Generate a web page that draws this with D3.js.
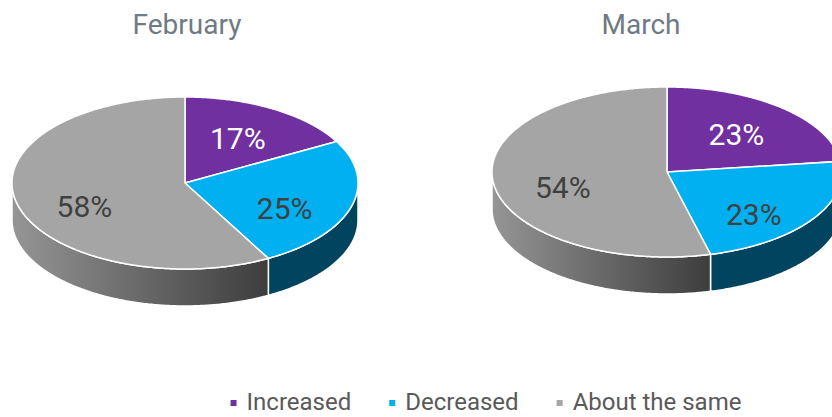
<!DOCTYPE html>
<html>
<head>
<meta charset="utf-8">
<script src="https://cdn.jsdelivr.net/npm/d3@7"></script>
<style>
  html, body { margin: 0; padding: 0; background: #ffffff; }
  svg { display: block; font-family: Roboto, "Open Sans", sans-serif; }
</style>
</head>
<body>
<svg id="chart" width="832" height="417"></svg>
<script>
// Survey answers per month (percent)
const categories = ["Increased", "Decreased", "About the same"];
const months = ["February", "March"];
const februaryValues = [17, 25, 58];
const marchValues = [23, 23, 54];

const topColors = ["#7030a0", "#00b0f0", "#a5a5a5"];
const sideColors = ["#3e1a5a", "#00445f", null]; // grey side uses a gradient
const labelColors = ["#ffffff", "#404040", "#404040"];

const svg = d3.select("#chart");
const defs = svg.append("defs");

// Geometry of each tilted pie (top face ellipse + rim depth)
const pies = [
  { title: months[0], values: februaryValues, cx: 185, cy: 183, rx: 173, ry: 86, depth: 37, titleX: 187 },
  { title: months[1], values: marchValues,    cx: 667, cy: 172, rx: 175, ry: 85, depth: 37, titleX: 641 }
];

const pieLayout = d3.pie().sort(null).value(d => d).startAngle(0).endAngle(2 * Math.PI);

function pt(p, a, dy = 0) {
  // angle measured clockwise from 12 o'clock
  return [p.cx + p.rx * Math.sin(a), p.cy - p.ry * Math.cos(a) + dy];
}

function arcPoints(p, a0, a1, dy) {
  const n = Math.max(2, Math.ceil(Math.abs(a1 - a0) / 0.01));
  return d3.range(n + 1).map(i => pt(p, a0 + (a1 - a0) * i / n, dy));
}

const line = d3.line();

pies.forEach((p, pi) => {
  const g = svg.append("g");
  const arcs = pieLayout(p.values);

  // horizontal shading for the grey rim
  const gradId = "rimGrey" + pi;
  const greyArc = arcs[2];
  const gEnd = pt(p, Math.max(greyArc.startAngle, Math.PI / 2))[0];
  const grad = defs.append("linearGradient")
    .attr("id", gradId)
    .attr("gradientUnits", "userSpaceOnUse")
    .attr("x1", p.cx - p.rx).attr("y1", 0)
    .attr("x2", gEnd).attr("y2", 0);
  grad.append("stop").attr("offset", 0).attr("stop-color", "#959595");
  grad.append("stop").attr("offset", 1).attr("stop-color", "#3d3d3d");

  // rim (only the front half, from 3 o'clock round to 9 o'clock, is visible)
  arcs.forEach((a, i) => {
    const s = Math.max(a.startAngle, Math.PI / 2);
    const e = Math.min(a.endAngle, 3 * Math.PI / 2);
    if (e <= s) return;
    const top = arcPoints(p, s, e, 0);
    const bottom = arcPoints(p, e, s, p.depth);
    g.append("path")
      .attr("d", line(top.concat(bottom)) + "Z")
      .attr("fill", i === 2 ? `url(#${gradId})` : sideColors[i])
      .attr("stroke", "#ffffff")
      .attr("stroke-width", 1.5)
      .attr("stroke-linejoin", "round");
  });

  // top faces
  arcs.forEach((a, i) => {
    const pts = [[p.cx, p.cy]].concat(arcPoints(p, a.startAngle, a.endAngle, 0));
    g.append("path")
      .attr("d", line(pts) + "Z")
      .attr("fill", topColors[i])
      .attr("stroke", "#ffffff")
      .attr("stroke-width", 1.5)
      .attr("stroke-linejoin", "round");
  });

  // value labels
  const fs = 30;
  arcs.forEach((a, i) => {
    const mid = (a.startAngle + a.endAngle) / 2;
    const x = p.cx + 0.6 * p.rx * Math.sin(mid);
    const y = p.cy - 0.71 * p.ry * Math.cos(mid) + 8;
    g.append("text")
      .attr("x", x)
      .attr("y", y + 0.355 * fs)
      .attr("text-anchor", "middle")
      .attr("font-size", fs)
      .attr("fill", labelColors[i])
      .text(a.data + "%");
  });

  // month title
  svg.append("text")
    .attr("x", p.titleX)
    .attr("y", 34)
    .attr("text-anchor", "middle")
    .attr("font-size", 28)
    .attr("fill", "#6f7a85")
    .text(p.title);
});

// legend
const legend = svg.append("g");
const items = legend.selectAll("g").data(categories).join("g");
items.append("rect")
  .attr("width", 6).attr("height", 6)
  .attr("y", -10)
  .attr("fill", (d, i) => topColors[i]);
const texts = items.append("text")
  .attr("x", 16)
  .attr("font-size", 24)
  .attr("fill", "#595959")
  .text(d => d);
const itemGap = 38;
let xPos = 0;
items.each(function (d, i) {
  d3.select(this).attr("transform", `translate(${xPos},0)`);
  xPos += 16 + texts.nodes()[i].getComputedTextLength() + itemGap;
});
const total = xPos - itemGap;
legend.attr("transform", `translate(${486 - total / 2},410)`);
</script>
</body>
</html>
